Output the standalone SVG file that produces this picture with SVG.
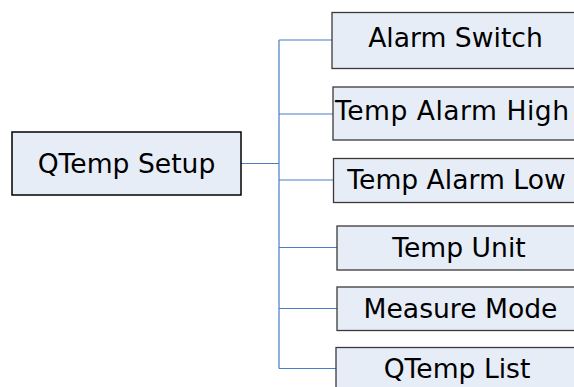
<svg xmlns="http://www.w3.org/2000/svg" width="574" height="387" viewBox="0 0 574 387">
<style>
.box{fill:#e7edf7;stroke:#3a3a3a;stroke-width:1.3}
.root{fill:#e7edf7;stroke:#000;stroke-width:1.5}
.t{font-family:"DejaVu Sans",Verdana,sans-serif;font-size:26.6px;fill:#000;text-anchor:middle}
.c{fill:none;stroke:#4a7cc8;stroke-width:1.2}
</style>
<rect width="574" height="387" fill="#fff"/>
<g id="connectors">
<path class="c" d="M241 163.5H279M279 40V368.5M279 40H332M279 114H333M279 180H333M279 247.5H337M279 308.5H337M279 368.5H336"/>
</g>
<g id="root"><rect class="root" x="12" y="132" width="229" height="63"/><text class="t" x="126.5" y="173">QTemp Setup</text></g>
<g id="n1"><rect class="box" x="332" y="12.5" width="250" height="56"/><text class="t" x="455.5" y="47">Alarm Switch</text></g>
<g id="n2"><rect class="box" x="333" y="87" width="250" height="53"/><text class="t" x="335" y="120" style="text-anchor:start" textLength="234" lengthAdjust="spacing">Temp Alarm High</text></g>
<g id="n3"><rect class="box" x="333.5" y="158.5" width="250" height="44"/><text class="t" x="456.5" y="189">Temp Alarm Low</text></g>
<g id="n4"><rect class="box" x="337" y="226" width="250" height="44"/><text class="t" x="459" y="256.5">Temp Unit</text></g>
<g id="n5"><rect class="box" x="337" y="287" width="250" height="43.5"/><text class="t" x="460.5" y="317.5">Measure Mode</text></g>
<g id="n6"><rect class="box" x="336" y="347.5" width="250" height="50"/><text class="t" x="457" y="378">QTemp List</text></g>
</svg>
